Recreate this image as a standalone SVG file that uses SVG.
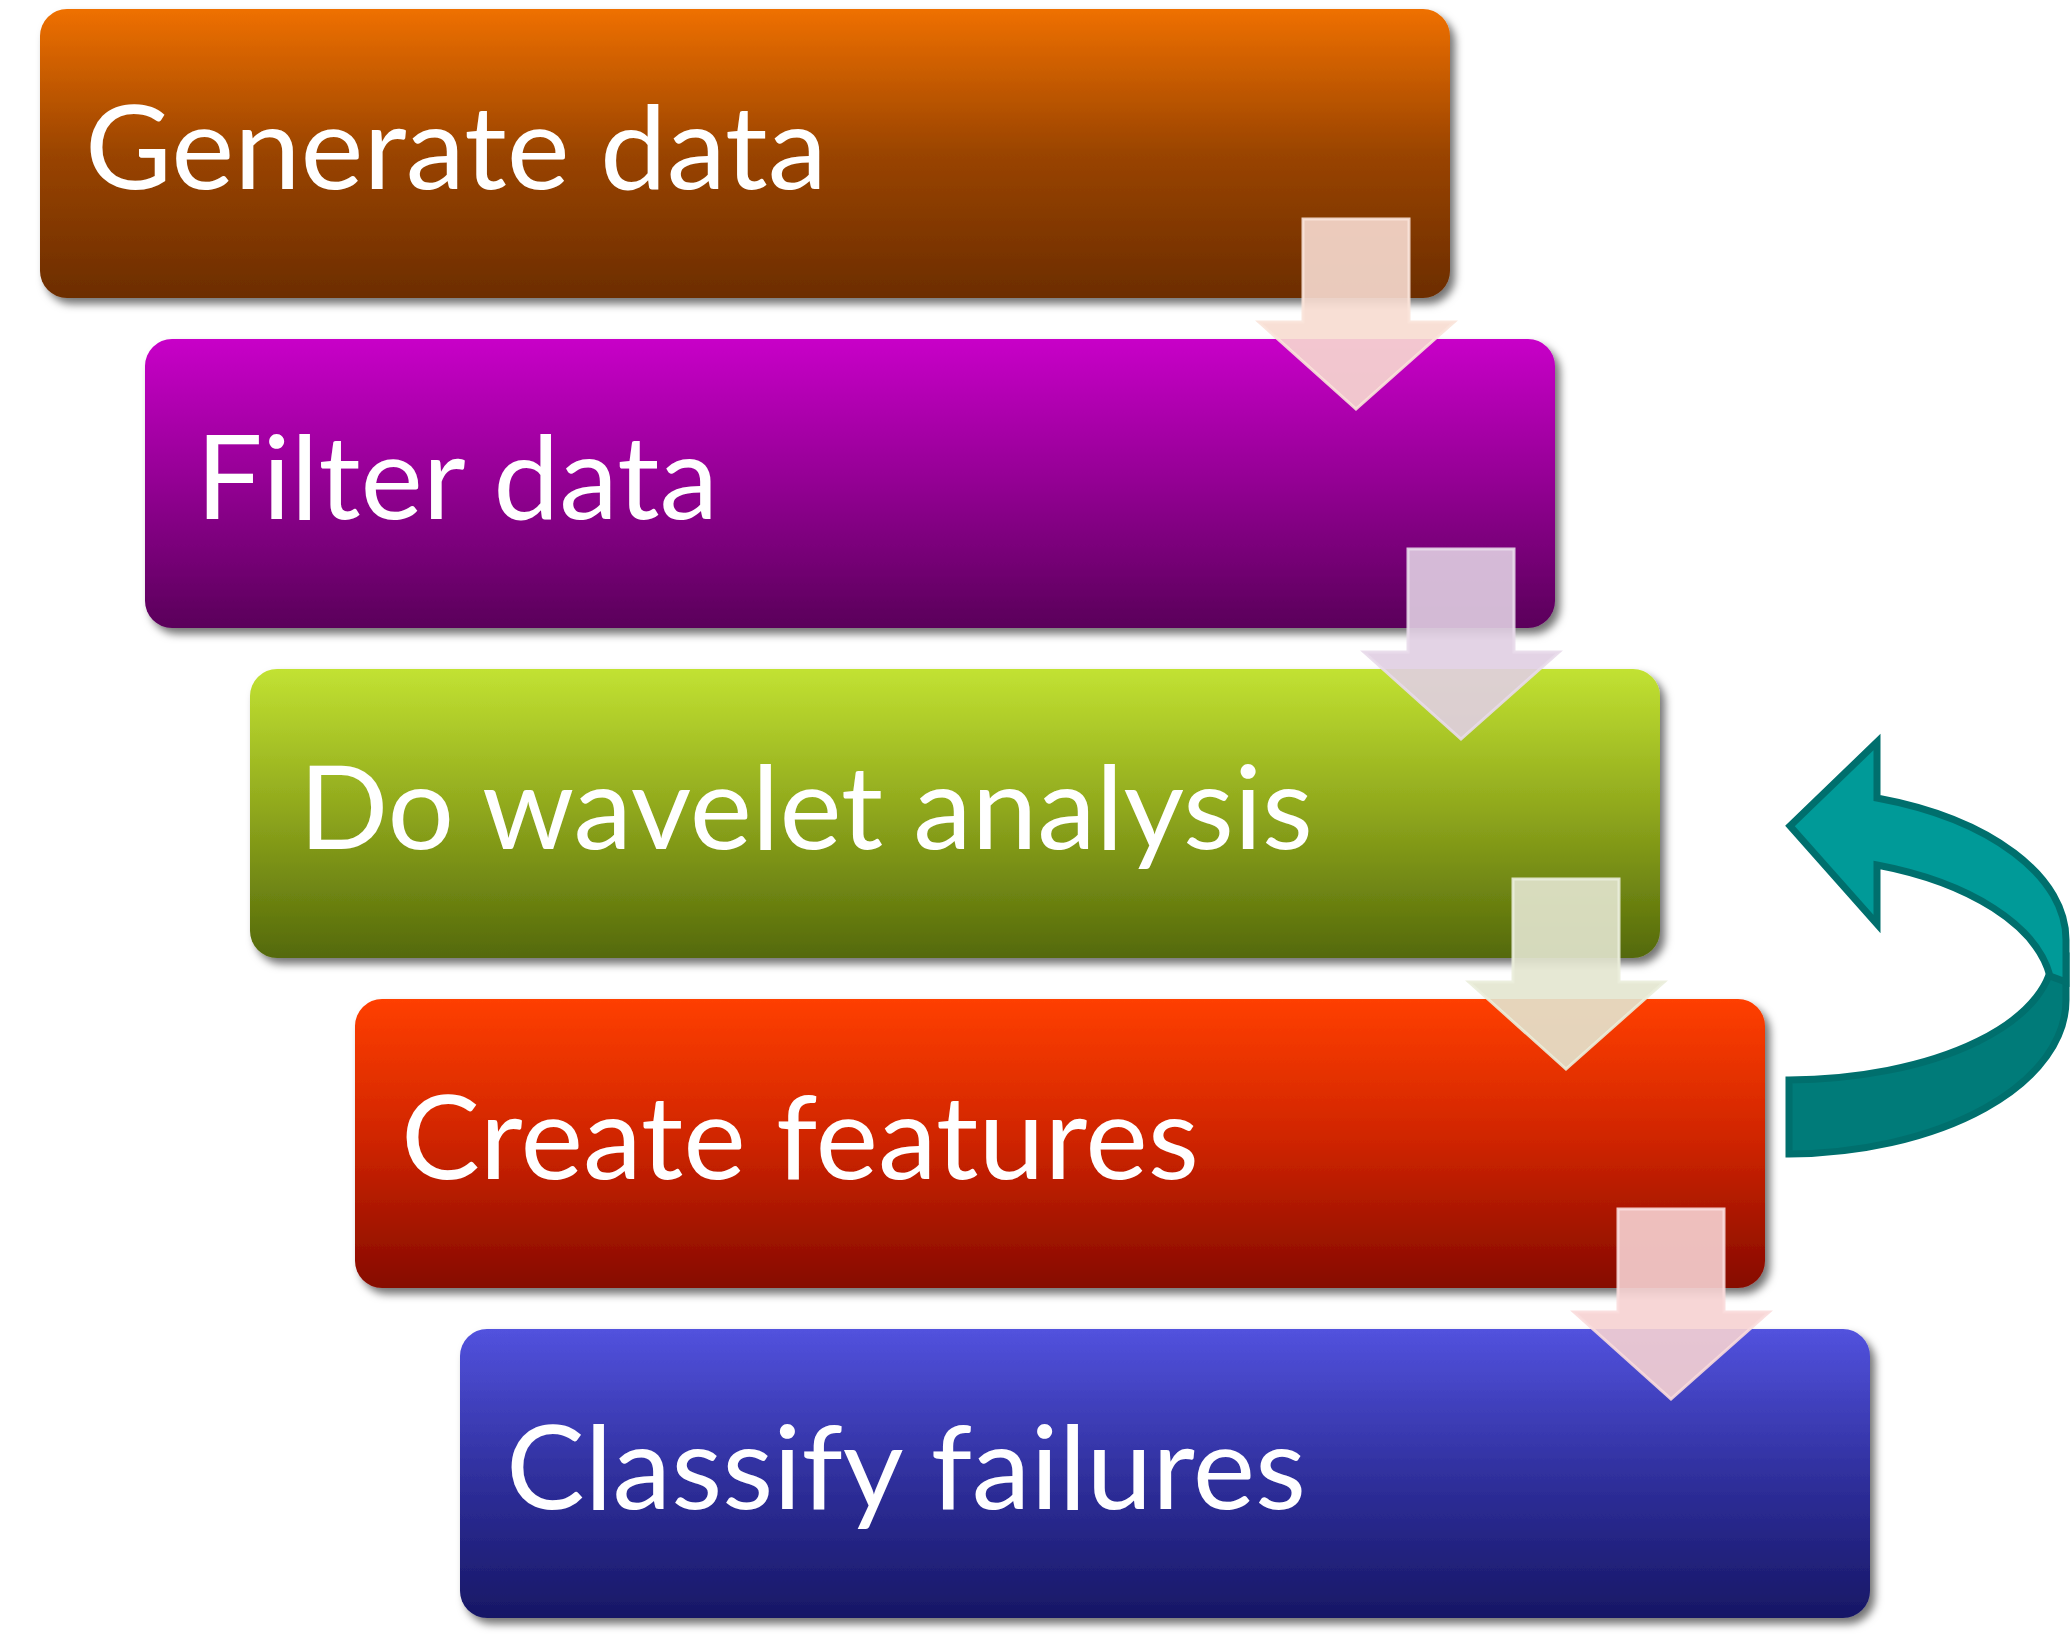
<svg xmlns="http://www.w3.org/2000/svg" width="2070" height="1644" viewBox="0 0 2070 1644">
<defs>
<linearGradient id="g1" x1="0" y1="0" x2="0" y2="1"><stop offset="0" stop-color="#EF7002"/><stop offset="0.5" stop-color="#9A4400"/><stop offset="1" stop-color="#6C2D00"/></linearGradient>
<linearGradient id="g2" x1="0" y1="0" x2="0" y2="1"><stop offset="0" stop-color="#C800C8"/><stop offset="0.5" stop-color="#930093"/><stop offset="1" stop-color="#5A005A"/></linearGradient>
<linearGradient id="g3" x1="0" y1="0" x2="0" y2="1"><stop offset="0" stop-color="#C2E232"/><stop offset="0.5" stop-color="#8EA61C"/><stop offset="1" stop-color="#54690A"/></linearGradient>
<linearGradient id="g4" x1="0" y1="0" x2="0" y2="1"><stop offset="0" stop-color="#FF3F00"/><stop offset="0.5" stop-color="#CE2400"/><stop offset="1" stop-color="#860A00"/></linearGradient>
<linearGradient id="g5" x1="0" y1="0" x2="0" y2="1"><stop offset="0" stop-color="#5252DE"/><stop offset="0.5" stop-color="#30309E"/><stop offset="1" stop-color="#171765"/></linearGradient>
<filter id="sh" x="-5%" y="-10%" width="115%" height="130%"><feDropShadow dx="5" dy="6" stdDeviation="4" flood-color="#000" flood-opacity="0.55"/></filter>
<path id="arr" d="M1303 219 L1409 219 L1409 322 L1454 322 L1356 409 L1259 322 L1303 322 Z"/>
</defs>
<style>
.box{filter:url(#sh)}
.lbl{font-family:Lato,"Open Sans","Noto Sans",sans-serif;font-size:117px;fill:#FFFFFF}
.ar{stroke-width:3;fill-opacity:0.9;stroke-opacity:0.9}
.cv{stroke:#006F6D;stroke-width:7;stroke-linejoin:miter}
</style>
<rect width="2070" height="1644" fill="#FFFFFF"/>
<g id="node1"><rect class="box" x="40" y="9" width="1410" height="289" rx="27" fill="url(#g1)"/><text class="lbl" x="85" y="189" textLength="742" lengthAdjust="spacingAndGlyphs">Generate data</text></g>
<g id="node2"><rect class="box" x="145" y="339" width="1410" height="289" rx="27" fill="url(#g2)"/><text class="lbl" x="196" y="519" textLength="522" lengthAdjust="spacingAndGlyphs">Filter data</text></g>
<g id="node3"><rect class="box" x="250" y="669" width="1410" height="289" rx="27" fill="url(#g3)"/><text class="lbl" x="299" y="849" textLength="1014" lengthAdjust="spacingAndGlyphs">Do wavelet analysis</text></g>
<g id="node4"><rect class="box" x="355" y="999" width="1410" height="289" rx="27" fill="url(#g4)"/><text class="lbl" x="401" y="1179" textLength="798" lengthAdjust="spacingAndGlyphs">Create features</text></g>
<g id="node5"><rect class="box" x="460" y="1329" width="1410" height="289" rx="27" fill="url(#g5)"/><text class="lbl" x="506" y="1509" textLength="800" lengthAdjust="spacingAndGlyphs">Classify failures</text></g>
<g id="connectors">
<use href="#arr" class="ar" fill="#F7DCD0" stroke="#F9E3D9"/>
<use href="#arr" class="ar" transform="translate(105 330)" fill="#E0CEE2" stroke="#E8DAEA"/>
<use href="#arr" class="ar" transform="translate(210 660)" fill="#E3E6CF" stroke="#EAEDDA"/>
<use href="#arr" class="ar" transform="translate(315 990)" fill="#F6D2D1" stroke="#F9DCDB"/>
<g id="loop">
<path class="cv" fill="#007B79" d="M1789 1154 A281 154 0 0 0 2066 1000 L2066 955 L2053 950 A267 127 0 0 1 1789 1080 Z"/>
<path class="cv" fill="#009A98" d="M1877 798 A281 150 0 0 1 2066 940 L2066 982 L2050 976 A268 138 0 0 0 1877 865 L1877 924 L1790 826 L1877 742 Z"/>
</g>
</g>
</svg>
